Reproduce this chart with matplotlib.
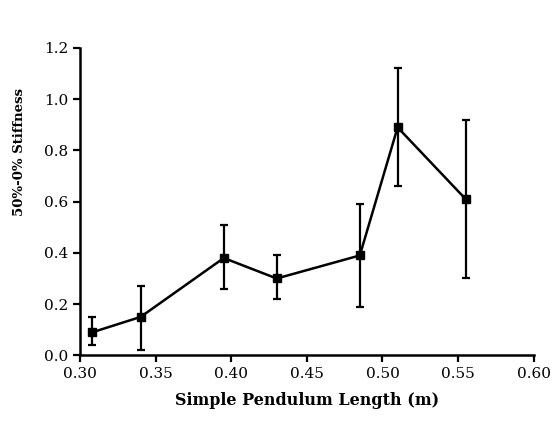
import matplotlib.pyplot as plt

length = [0.308, 0.340, 0.395, 0.430, 0.485, 0.510, 0.555]
stiffness = [0.09, 0.15, 0.38, 0.30, 0.39, 0.89, 0.61]
err_low = [0.04, 0.02, 0.26, 0.22, 0.19, 0.66, 0.30]
err_high = [0.15, 0.27, 0.51, 0.39, 0.59, 1.12, 0.92]

lower = [s - lo for s, lo in zip(stiffness, err_low)]
upper = [hi - s for s, hi in zip(stiffness, err_high)]

plt.rcParams['font.family'] = 'DejaVu Serif'

fig = plt.figure(figsize=(5.53, 4.36), dpi=100)
ax = fig.add_axes([0.145, 0.185, 0.82, 0.705])

ax.errorbar(length, stiffness, yerr=[lower, upper], color='black', marker='s',
            markersize=6, linewidth=1.8, elinewidth=1.6, capsize=3, capthick=1.6)

ax.set_xlim(0.30, 0.60)
ax.set_ylim(0.0, 1.2)
ax.set_xticks([0.30, 0.35, 0.40, 0.45, 0.50, 0.55, 0.60])
ax.set_yticks([0.0, 0.2, 0.4, 0.6, 0.8, 1.0, 1.2])
ax.xaxis.set_major_formatter(plt.FormatStrFormatter('%.2f'))
ax.yaxis.set_major_formatter(plt.FormatStrFormatter('%.1f'))

ax.spines['top'].set_visible(False)
ax.spines['right'].set_visible(False)
ax.spines['left'].set_linewidth(1.8)
ax.spines['bottom'].set_linewidth(1.8)
ax.tick_params(direction='out', width=1.6, length=5, labelsize=11)

ax.set_xlabel('Simple Pendulum Length (m)', fontsize=11.5, fontweight='bold', labelpad=8)
ax.set_ylabel('50%-0% Stiffness', fontsize=9.5, fontweight='bold')
ax.yaxis.set_label_coords(-0.12, 0.66)

fig.savefig('out.png', dpi=100)
